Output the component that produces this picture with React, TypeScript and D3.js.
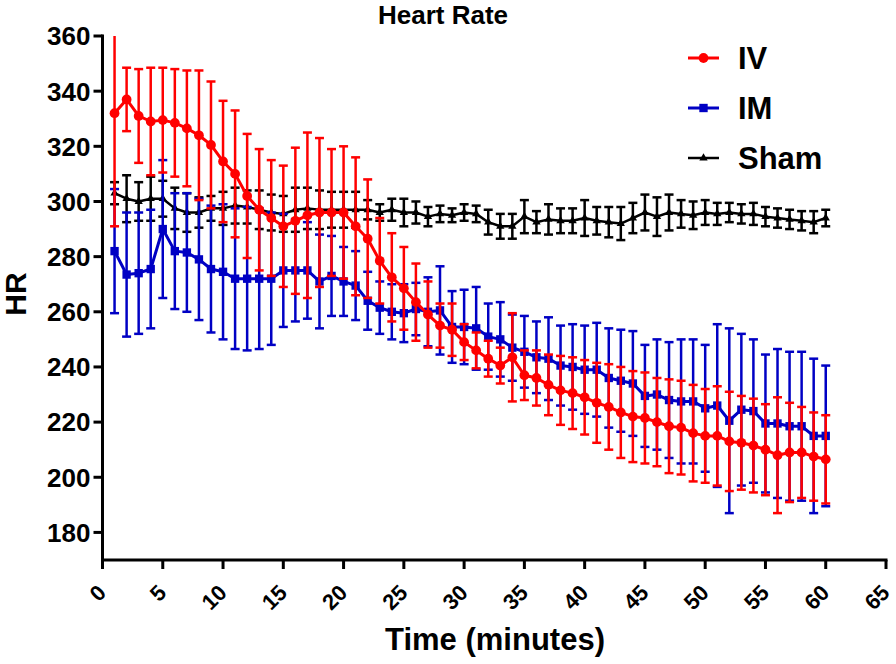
import { useEffect, useRef } from "react";
import * as d3 from "d3";

// minutes after injection
const minutes = [
  1, 2, 3, 4, 5, 6, 7, 8, 9, 10, 11, 12, 13, 14, 15, 16, 17, 18, 19, 20,
  21, 22, 23, 24, 25, 26, 27, 28, 29, 30, 31, 32, 33, 34, 35, 36, 37, 38, 39, 40,
  41, 42, 43, 44, 45, 46, 47, 48, 49, 50, 51, 52, 53, 54, 55, 56, 57, 58, 59, 60,
];

const ivMean = [
  332, 337, 331, 329, 329.5, 328.5, 326.5, 324, 320.5, 314.5, 310, 302, 297, 294, 291, 293, 295, 296, 296, 296,
  291, 286.5, 278.5, 272.5, 268.5, 263.5, 259, 255, 253.5, 249, 246, 243, 240.5, 243.5, 237, 236, 233.5, 231.5, 230.5, 229,
  227, 225.5, 223.5, 222, 221.5, 220, 218.5, 218, 216, 215, 215, 213, 212.5, 211.5, 210, 208, 209, 209, 207.5, 206.5,
];
const ivSd = [
  41, 11.5, 17, 19.5, 19, 19.5, 21, 23.5, 23, 22, 23, 22.5, 22, 21, 22, 26.5, 30, 27, 23, 24,
  25, 21.5, 15.5, 16, 15, 14, 12, 8, 9.5, 6.5, 6.5, 6.5, 6.5, 16, 9, 10, 11, 12.5, 13, 13.5,
  14.5, 15.5, 16.5, 16.5, 16.5, 16, 17, 17, 17.5, 17, 18, 18, 17, 17, 16.5, 21, 18, 16.5, 16, 16,
];

const imMean = [
  282, 273.5, 274, 275.5, 290, 282, 281.5, 279, 275.5, 274.5, 272, 272, 272, 272, 275, 275, 275, 271, 273, 271,
  269.5, 264, 261.5, 260, 259.5, 261, 260, 260.5, 254.5, 254.5, 254, 251, 250, 247, 245.5, 243.5, 243, 240.5, 240, 239,
  239, 236, 235, 234, 229.5, 230, 228, 227.5, 227.5, 225, 226, 220.5, 224.5, 224, 219.5, 219.5, 218.5, 218.5, 215, 215,
];
const imSd = [
  22.5, 22.5, 22, 21.5, 25, 21, 21.5, 22, 23, 24.5, 25.5, 26, 25.5, 24, 20.5, 18.5, 17.5, 17, 14.5, 12.5,
  12.5, 10.5, 9.5, 10, 10.5, 9.5, 12.5, 16, 13, 13.5, 15, 12, 13.5, 12, 13, 13, 15, 14.5, 15.5, 16,
  17, 18, 18.5, 19, 18.5, 20, 21, 22.5, 22.5, 23, 29.5, 33.5, 27.5, 26, 25, 27, 27, 27, 28, 25.5,
];

const shamMean = [
  303, 301, 300, 301, 301, 297.5, 296, 296, 297.5, 297.5, 298.5, 298, 297, 296, 295.5, 297, 297.5, 297, 297, 297,
  297, 297, 296, 297, 296, 296, 294.5, 295.5, 295, 296, 295.5, 292.5, 291, 291, 294.5, 292.5, 293.5, 293, 293, 294,
  293, 292.5, 292, 294, 296, 294.5, 296, 295.5, 295, 296, 295.5, 296, 295.5, 295.5, 294.5, 294, 293.5, 293, 292.5, 294,
];
const shamSd = [
  4, 8.5, 7, 8, 6.5, 7.5, 7, 5.5, 4.5, 6, 6.5, 6, 7, 6.5, 6.5, 8, 7.5, 7, 6.5, 6.5,
  6.5, 3.5, 3, 4, 5, 4, 3.5, 3, 2.5, 3, 3, 4.5, 4.5, 4.5, 6, 4, 5.5, 4.5, 4.5, 6.5,
  5, 5.5, 6, 5.5, 6.5, 7, 6.5, 5, 5, 4.5, 4, 3.5, 3.5, 4, 3.5, 3.5, 3.5, 3.5, 4, 3,
];

const xTicks = [0, 5, 10, 15, 20, 25, 30, 35, 40, 45, 50, 55, 60, 65];
const yTicks = [180, 200, 220, 240, 260, 280, 300, 320, 340, 360];

const FONT = "'Liberation Sans', Arial, Helvetica, sans-serif";

export default function App() {
  const ref = useRef<SVGSVGElement>(null);

  useEffect(() => {
    const svg = d3.select(ref.current);
    svg.selectAll("*").remove();

    const x = d3.scaleLinear().domain([0, 65]).range([102.5, 886]);
    const y = d3.scaleLinear().domain([170, 360]).range([560, 36]);
    const yTop = y(360);
    const yBot = y(170);

    const series = [
      { name: "Sham", mean: shamMean, sd: shamSd, color: "#000000", shape: d3.symbolTriangle, size: 30, lw: 2.5 },
      { name: "IM", mean: imMean, sd: imSd, color: "#0000C4", shape: d3.symbolSquare, size: 70, lw: 3 },
      { name: "IV", mean: ivMean, sd: ivSd, color: "#FF0000", shape: d3.symbolCircle, size: 75, lw: 3 },
    ];

    const capW = 4.5;

    series.forEach((s) => {
      const g = svg.append("g");
      // error bars, clipped at the top of the axis like the original
      minutes.forEach((m, i) => {
        const cx = x(m);
        const hi = y(s.mean[i] + s.sd[i]);
        const lo = y(s.mean[i] - s.sd[i]);
        g.append("line")
          .attr("x1", cx).attr("x2", cx)
          .attr("y1", Math.max(hi, yTop)).attr("y2", Math.min(lo, yBot))
          .attr("stroke", s.color).attr("stroke-width", 2.5);
        if (hi >= yTop) {
          g.append("line")
            .attr("x1", cx - capW).attr("x2", cx + capW)
            .attr("y1", hi).attr("y2", hi)
            .attr("stroke", s.color).attr("stroke-width", 2.5);
        }
        if (lo <= yBot) {
          g.append("line")
            .attr("x1", cx - capW).attr("x2", cx + capW)
            .attr("y1", lo).attr("y2", lo)
            .attr("stroke", s.color).attr("stroke-width", 2.5);
        }
      });

      const line = d3
        .line<number>()
        .x((m) => x(m))
        .y((_, i) => y(s.mean[i]));

      g.append("path")
        .datum(minutes)
        .attr("fill", "none")
        .attr("stroke", s.color)
        .attr("stroke-width", s.lw)
        .attr("stroke-linejoin", "round")
        .attr("d", line);

      g.selectAll("path.mk")
        .data(minutes)
        .join("path")
        .attr("class", "mk")
        .attr("transform", (m, i) => `translate(${x(m)},${y(s.mean[i])})`)
        .attr("d", d3.symbol().type(s.shape).size(s.size)())
        .attr("fill", s.color);
    });

    // axes
    const axes = svg.append("g").attr("font-family", FONT).attr("font-weight", "bold");
    axes.append("line")
      .attr("x1", x(0)).attr("x2", x(0))
      .attr("y1", yTop - 1.5).attr("y2", yBot + 1.5)
      .attr("stroke", "#000").attr("stroke-width", 3);
    axes.append("line")
      .attr("x1", x(0) - 1.5).attr("x2", x(65) + 1.5)
      .attr("y1", yBot).attr("y2", yBot)
      .attr("stroke", "#000").attr("stroke-width", 3);

    yTicks.forEach((t) => {
      axes.append("line")
        .attr("x1", x(0) - 9).attr("x2", x(0))
        .attr("y1", y(t)).attr("y2", y(t))
        .attr("stroke", "#000").attr("stroke-width", 3);
      axes.append("text")
        .attr("x", x(0) - 12)
        .attr("y", y(t))
        .attr("dy", "0.36em")
        .attr("text-anchor", "end")
        .attr("font-size", 26)
        .text(t);
    });

    xTicks.forEach((t) => {
      axes.append("line")
        .attr("x1", x(t)).attr("x2", x(t))
        .attr("y1", yBot).attr("y2", yBot + 9)
        .attr("stroke", "#000").attr("stroke-width", 3);
      axes.append("text")
        .attr("transform", `translate(${x(t) + 5},${yBot + 34}) rotate(-45)`)
        .attr("text-anchor", "end")
        .attr("font-size", 22)
        .text(t);
    });

    axes.append("text")
      .attr("x", 495)
      .attr("y", 650)
      .attr("text-anchor", "middle")
      .attr("font-size", 31)
      .text("Time (minutes)");

    axes.append("text")
      .attr("transform", `translate(26,294) rotate(-90)`)
      .attr("text-anchor", "middle")
      .attr("font-size", 30)
      .text("HR");

    axes.append("text")
      .attr("x", 443)
      .attr("y", 24)
      .attr("text-anchor", "middle")
      .attr("font-size", 26)
      .text("Heart Rate");

    // legend
    const legend = svg.append("g").attr("font-family", FONT).attr("font-weight", "bold");
    const legendItems = [series[2], series[1], series[0]];
    legendItems.forEach((s, i) => {
      const ly = 58 + i * 50;
      legend.append("line")
        .attr("x1", 688).attr("x2", 719)
        .attr("y1", ly).attr("y2", ly)
        .attr("stroke", s.color).attr("stroke-width", s.lw);
      legend.append("path")
        .attr("transform", `translate(703.5,${ly})`)
        .attr("d", d3.symbol().type(s.shape).size(s.size)())
        .attr("fill", s.color);
      legend.append("text")
        .attr("x", 738)
        .attr("y", ly)
        .attr("dy", "0.36em")
        .attr("font-size", 31)
        .text(s.name);
    });
  }, []);

  return (
    <svg
      ref={ref}
      width="896"
      height="664"
      style={{ position: "absolute", left: 0, top: 0, background: "#fff" }}
    ></svg>
  );
}
